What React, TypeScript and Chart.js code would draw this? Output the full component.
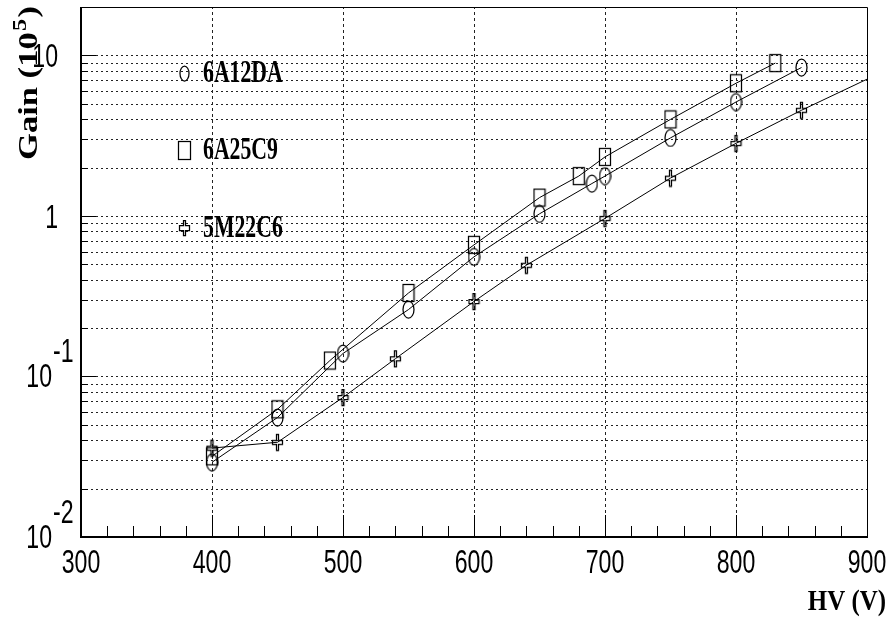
import React, { useEffect, useRef } from "react";
import { Chart, registerables } from "chart.js";

Chart.register(...registerables);

// ---- data (HV in volts, gain in units of 10^5) ----
const HV_6A12DA = [400, 450, 500, 550, 600, 650, 690, 700, 750, 800, 850];
const GAIN_6A12DA = [0.0292, 0.0555, 0.139, 0.261, 0.556, 1.03, 1.59, 1.77, 3.06, 5.12, 8.4];

const HV_6A25C9 = [400, 450, 490, 550, 600, 650, 680, 700, 750, 800, 830];
const GAIN_6A25C9 = [0.0318, 0.0624, 0.1256, 0.331, 0.66, 1.3, 1.77, 2.33, 3.99, 6.7, 8.95];

const HV_5M22C6 = [400, 450, 500, 540, 600, 640, 700, 750, 800, 850, 900];
const GAIN_5M22C6 = [0.0358, 0.0389, 0.074, 0.129, 0.293, 0.493, 0.965, 1.72, 2.83, 4.55, 7.1];
const MARKED_5M22C6 = [1, 1, 1, 1, 1, 1, 1, 1, 1, 1, 0];

const SERIES_NAMES = ["6A12DA", "6A25C9", "5M22C6"];

// ---- axes ----
const X_MIN = 300;
const X_MAX = 900;
const Y_MIN = 0.01;
const Y_MAX = 20;
const X_LABELS = [300, 400, 500, 600, 700, 800, 900];
const X_GRID = [400, 500, 600, 700, 800];
const X_MINOR = [320, 340, 360, 380, 420, 440, 460, 480, 520, 540, 560, 580, 620, 640, 660, 680,
  720, 740, 760, 780, 820, 840, 860, 880];
const Y_GRID = [0.02, 0.03, 0.04, 0.05, 0.06, 0.07, 0.08, 0.09, 0.1,
  0.2, 0.3, 0.4, 0.5, 0.6, 0.7, 0.8, 0.9, 1,
  2, 3, 4, 5, 6, 7, 8, 9, 10];
const Y_MAJOR = [0.1, 1, 10];
const Y_LABEL_VALUES = [10, 1, 0.1, 0.01];
const Y_LABEL_BASE = ["10", "1", "10", "10"];
const Y_LABEL_EXP = ["", "", "-1", "-2"];

type Kind = "circle" | "square" | "plus";

function makeMarker(kind: Kind, w: number, h: number): HTMLCanvasElement {
  const c = document.createElement("canvas");
  c.width = w + 2;
  c.height = h + 2;
  const ctx = c.getContext("2d")!;
  ctx.strokeStyle = "#000";
  ctx.lineWidth = 1.25;
  const l = 1, t = 1, r = 1 + w, b = 1 + h;
  if (kind === "circle") {
    ctx.beginPath();
    ctx.ellipse(c.width / 2, c.height / 2, w / 2, h / 2, 0, 0, Math.PI * 2);
    ctx.stroke();
  } else if (kind === "square") {
    ctx.strokeRect(l + 0.5, t + 0.5, w - 1, h - 1);
  } else {
    const ax = Math.round(w / 3), ay = Math.round(h / 3);
    const L = l + 0.5, T = t + 0.5, R = r - 0.5, B = b - 0.5;
    const x1 = L + ax, x2 = R - ax, y1 = T + ay, y2 = B - ay;
    ctx.beginPath();
    ctx.moveTo(x1, T);
    ctx.lineTo(x2, T);
    ctx.lineTo(x2, y1);
    ctx.lineTo(R, y1);
    ctx.lineTo(R, y2);
    ctx.lineTo(x2, y2);
    ctx.lineTo(x2, B);
    ctx.lineTo(x1, B);
    ctx.lineTo(x1, y2);
    ctx.lineTo(L, y2);
    ctx.lineTo(L, y1);
    ctx.lineTo(x1, y1);
    ctx.closePath();
    ctx.stroke();
  }
  return c;
}

export default function App() {
  const ref = useRef<HTMLCanvasElement | null>(null);

  useEffect(() => {
    if (!ref.current) return;
    const mCircle = makeMarker("circle", 11, 17);
    const mSquare = makeMarker("square", 12, 18);
    const mPlus = makeMarker("plus", 11, 17);
    const legendMarkers = [makeMarker("circle", 9, 15), makeMarker("square", 13, 19), makeMarker("plus", 11, 16)];

    const tickFont = "33px 'Liberation Sans', Arial, sans-serif";
    const TICK_SX = 0.7;
    const SERIF = "'Liberation Serif', 'Times New Roman', serif";

    const drawScaled = (ctx: CanvasRenderingContext2D, text: string, x: number, y: number, sx: number, align: CanvasTextAlign) => {
      ctx.save();
      ctx.translate(x, y);
      ctx.scale(sx, 1);
      ctx.textAlign = align;
      ctx.textBaseline = "alphabetic";
      ctx.fillText(text, 0, 0);
      ctx.restore();
    };

    const gridPlugin = {
      id: "rootGrid",
      beforeDatasetsDraw(chart: any) {
        const { ctx, chartArea, scales } = chart;
        const { left, right, top, bottom } = chartArea;
        const xs = scales.x, ys = scales.y;
        ctx.save();
        ctx.strokeStyle = "#222";
        ctx.lineWidth = 1;
        ctx.setLineDash([2, 3]);
        for (const v of Y_GRID) {
          const py = Math.round(ys.getPixelForValue(v)) + 0.5;
          ctx.beginPath();
          ctx.moveTo(left, py);
          ctx.lineTo(right, py);
          ctx.stroke();
        }
        ctx.setLineDash([3, 3]);
        for (const v of X_GRID) {
          const px = Math.round(xs.getPixelForValue(v)) + 0.5;
          ctx.beginPath();
          ctx.moveTo(px, bottom);
          ctx.lineTo(px, top);
          ctx.stroke();
        }
        ctx.setLineDash([]);
        ctx.strokeStyle = "#000";
        for (const v of X_GRID) {
          const px = Math.round(xs.getPixelForValue(v)) + 0.5;
          ctx.beginPath();
          ctx.moveTo(px, bottom);
          ctx.lineTo(px, bottom - 22);
          ctx.stroke();
        }
        for (const v of X_MINOR) {
          const px = Math.round(xs.getPixelForValue(v)) + 0.5;
          ctx.beginPath();
          ctx.moveTo(px, bottom);
          ctx.lineTo(px, bottom - 11);
          ctx.stroke();
        }
        for (const v of Y_GRID) {
          const py = Math.round(ys.getPixelForValue(v)) + 0.5;
          const len = Y_MAJOR.includes(v) ? 15 : 7;
          ctx.beginPath();
          ctx.moveTo(left, py);
          ctx.lineTo(left + len, py);
          ctx.stroke();
        }
        ctx.restore();
      },
      afterDatasetsDraw(chart: any) {
        const { ctx, chartArea } = chart;
        const { left, right, top, bottom } = chartArea;
        ctx.save();
        ctx.strokeStyle = "#000";
        ctx.lineWidth = 1;
        ctx.beginPath();
        ctx.moveTo(left, top + 0.5);
        ctx.lineTo(right + 0.5, top + 0.5);
        ctx.lineTo(right + 0.5, bottom);
        ctx.stroke();
        ctx.lineWidth = 2;
        ctx.beginPath();
        ctx.moveTo(left, top);
        ctx.lineTo(left, bottom);
        ctx.lineTo(right + 1, bottom);
        ctx.stroke();
        ctx.restore();
      },
      afterDraw(chart: any) {
        const { ctx, scales, chartArea } = chart;
        const xs = scales.x, ys = scales.y;
        ctx.save();
        ctx.fillStyle = "#000";
        ctx.font = tickFont;
        for (const v of X_LABELS) {
          drawScaled(ctx, String(v), xs.getPixelForValue(v), chartArea.bottom + 36, TICK_SX, "center");
        }
        Y_LABEL_VALUES.forEach((v, i) => {
          const py = ys.getPixelForValue(v);
          const exp = Y_LABEL_EXP[i];
          if (!exp) {
            drawScaled(ctx, Y_LABEL_BASE[i], chartArea.left - 23, py + 12, TICK_SX, "right");
          } else {
            drawScaled(ctx, Y_LABEL_BASE[i], chartArea.left - 29, py + 11, TICK_SX, "right");
            drawScaled(ctx, exp, chartArea.left - 28, py - 14, TICK_SX, "left");
          }
        });

        ctx.font = "bold 30px " + SERIF;
        drawScaled(ctx, "HV (V)", 886, 610, 0.83, "right");

        ctx.save();
        ctx.translate(37, 160);
        ctx.rotate(-Math.PI / 2);
        ctx.scale(1.28, 1);
        ctx.textAlign = "left";
        ctx.textBaseline = "alphabetic";
        ctx.font = "bold 27px " + SERIF;
        ctx.fillText("Gain (10", 0, 0);
        const w1 = ctx.measureText("Gain (10").width;
        ctx.font = "bold 19px " + SERIF;
        ctx.fillText("5", w1 + 1, -11);
        const w5 = ctx.measureText("5").width;
        ctx.font = "bold 27px " + SERIF;
        ctx.fillText(")", w1 + w5 + 2, 0);
        ctx.restore();

        const legendBase = [82, 159, 237];
        ctx.font = "bold 32px " + SERIF;
        SERIES_NAMES.forEach((name, i) => {
          const m = legendMarkers[i];
          const by = legendBase[i];
          ctx.drawImage(m, Math.round(184 - m.width / 2), Math.round(by - 9 - m.height / 2));
          drawScaled(ctx, name, 203, by, 0.68, "left");
        });
        ctx.restore();
      },
    };

    const toPts = (xs: number[], ys: number[]) => xs.map((x, i) => ({ x, y: ys[i] }));

    const chart = new Chart(ref.current, {
      type: "scatter",
      data: {
        datasets: [
          {
            label: SERIES_NAMES[0],
            data: toPts(HV_6A12DA, GAIN_6A12DA),
            showLine: true,
            borderColor: "#000",
            borderWidth: 1,
            pointStyle: mCircle as any,
            pointRadius: 4,
            tension: 0,
          },
          {
            label: SERIES_NAMES[1],
            data: toPts(HV_6A25C9, GAIN_6A25C9),
            showLine: true,
            borderColor: "#000",
            borderWidth: 1,
            pointStyle: mSquare as any,
            pointRadius: 4,
            tension: 0,
          },
          {
            label: SERIES_NAMES[2],
            data: toPts(HV_5M22C6, GAIN_5M22C6),
            showLine: true,
            borderColor: "#000",
            borderWidth: 1,
            pointStyle: mPlus as any,
            pointRadius: MARKED_5M22C6.map((m) => (m ? 4 : 0)),
            tension: 0,
          },
        ],
      },
      options: {
        responsive: false,
        animation: false,
        events: [],
        layout: { padding: { left: 81, top: 7, right: 25, bottom: 84 } },
        plugins: { legend: { display: false }, tooltip: { enabled: false } },
        scales: {
          x: { type: "linear", min: X_MIN, max: X_MAX, display: false },
          y: { type: "logarithmic", min: Y_MIN, max: Y_MAX, display: false },
        },
      },
      plugins: [gridPlugin],
    });
    return () => chart.destroy();
  }, []);

  return (
    <div style={{ position: "fixed", left: 0, top: 0, width: 892, height: 621, background: "#fff" }}>
      <canvas ref={ref} width={892} height={621} style={{ display: "block" }} />
    </div>
  );
}
